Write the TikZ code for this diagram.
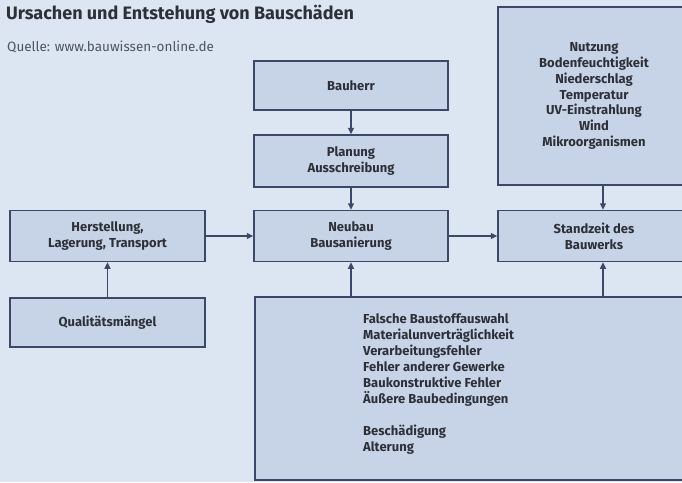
\documentclass[tikz,border=0pt]{standalone}
\usepackage{fontspec}
\setmainfont{Fira Sans}
\usetikzlibrary{arrows.meta}
\definecolor{bg}{HTML}{DCE6F2}
\definecolor{boxfill}{HTML}{C7D4E8}
\definecolor{boxline}{HTML}{3B4868}
\definecolor{txt}{HTML}{2E3038}
\definecolor{srctxt}{HTML}{50545E}
\tikzset{
  box/.style={draw=boxline, fill=boxfill, line width=1.5pt, minimum width=194pt, inner sep=0pt,
    text=txt, font=\fontsize{13}{15.8}\selectfont\bfseries, align=center},
  arr/.style={draw=boxline, line width=1.5pt, -{Triangle[length=6.5pt,width=6pt]}},
}
\begin{document}
\begin{tikzpicture}[x=1pt,y=-1pt]
\useasboundingbox (0,0) rectangle (682,482);
\clip (0,0) rectangle (682,482);
\fill[bg] (0,0) rectangle (682,482);
\node[anchor=base west, text=txt, font=\fontsize{18}{20}\selectfont\bfseries, inner sep=0pt] (title) at (6,19) {Ursachen und Entstehung von Bauschäden};
\node[anchor=base west, text=srctxt, font=\fontsize{13.5}{15}\selectfont, inner sep=0pt] (src) at (7,51) {Quelle: www.bauwissen-online.de};
% middle column
\node[box, minimum height=49pt] (bauherr) at (351,85.5) {Bauherr};
\node[box, minimum height=52pt] (planung) at (351,161) {Planung\\Ausschreibung};
\node[box, minimum height=51pt] (neubau) at (351,236) {Neubau\\Bausanierung};
% left column
\node[box, minimum width=195pt, minimum height=51pt] (herst) at (107.5,236) {Herstellung,\\Lagerung, Transport};
\node[box, minimum width=195pt, minimum height=49pt] (quali) at (107.5,322.5) {Qualitätsmängel};
% right column
\node[box, minimum width=192pt, minimum height=178pt] (env) at (594,96) {Nutzung\\Bodenfeuchtigkeit\\Niederschlag\\Temperatur\\UV-Einstrahlung\\Wind\\Mikroorganismen};
\node[box, minimum width=192pt, minimum height=51pt] (stand) at (594,236) {Standzeit des\\Bauwerks};
% bottom box
\node[box, minimum width=435pt, minimum height=183pt] (big) at (472.5,388.5) {};
\node[anchor=north west, text=txt, font=\fontsize{13}{16}\selectfont\bfseries, align=left, inner sep=0pt] (bigtext) at (363,313) {Falsche Baustoffauswahl\\Materialunverträglichkeit\\Verarbeitungsfehler\\Fehler anderer Gewerke\\Baukonstruktive Fehler\\Äußere Baubedingungen\\[16pt]Beschädigung\\Alterung};
% connectors
\draw[arr] (bauherr) -- (planung);
\draw[arr] (planung) -- (neubau);
\draw[arr] (herst) -- (neubau);
\draw[arr] (neubau) -- (stand);
\draw[arr] (quali.north -| herst) -- (herst.south);
\draw[arr] (env.south -| 603,0) -- (stand.north -| 603,0);
\draw[arr] (big.north -| neubau) -- (neubau.south);
\draw[arr] (big.north -| 603,0) -- (stand.south -| 603,0);
\end{tikzpicture}
\end{document}
